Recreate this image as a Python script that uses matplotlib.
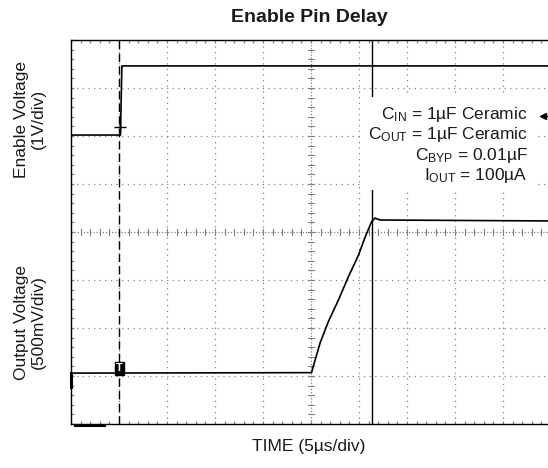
import matplotlib
matplotlib.use("Agg")
import matplotlib.pyplot as plt
from matplotlib.patches import Rectangle
import numpy as np

plt.rcParams['font.family'] = ['Liberation Sans', 'DejaVu Sans']
plt.rcParams['mathtext.fontset'] = 'custom'
plt.rcParams['mathtext.rm'] = 'Liberation Sans'
plt.rcParams['mathtext.it'] = 'Liberation Sans:italic'
plt.rcParams['mathtext.bf'] = 'Liberation Sans:bold'

# ---- data (screen divisions) ----
title = "Enable Pin Delay"
xlabel = "TIME (5µs/div)"
ylabel_top = "Enable Voltage\n(1V/div)"
ylabel_bottom = "Output Voltage\n(500mV/div)"

time_enable = [0.0, 1.03, 1.06, 10.0]
enable_div = [6.02, 6.02, 7.46, 7.46]

time_out = [0.0, 5.01, 5.19, 5.36, 5.57, 5.78, 5.99, 6.13, 6.26, 6.33, 6.44, 10.0]
vout_div = [1.06, 1.07, 1.69, 2.13, 2.58, 3.07, 3.52, 3.90, 4.21, 4.29, 4.25, 4.23]

trigger_time = 1.0
cursor_time = 6.27

notes = [r"C$_{\mathrm{IN}}$ = 1µF Ceramic",
         r"C$_{\mathrm{OUT}}$ = 1µF Ceramic",
         r"C$_{\mathrm{BYP}}$ = 0.01µF",
         r"I$_{\mathrm{OUT}}$ = 100µA"]

# ---- figure ----
W, H = 548, 468
fig = plt.figure(figsize=(W / 100, H / 100), dpi=100)
ax = fig.add_axes([71 / W, 44 / H, 480 / W, 384 / H])
ax.set_xlim(0, 10)
ax.set_ylim(0, 8)

gridc = '#808080'
txtc = '#1a1a1a'
for xv in range(1, 10):
    if xv == 5:
        continue
    ax.plot([xv, xv], [0, 8], color=gridc, lw=0.9, ls=(0, (1, 3.5)), zorder=1)
for yv in range(1, 8):
    if yv == 4:
        continue
    ax.plot([0, 10], [yv, yv], color=gridc, lw=0.9, ls=(0, (1, 3.5)), zorder=1)
# centre cross with minor ticks
ax.plot([5, 5], [0, 8], color=gridc, lw=0.9, ls=(0, (1, 1.5)), zorder=1)
ax.plot([0, 10], [4, 4], color=gridc, lw=0.9, ls=(0, (1, 1.5)), zorder=1)
for t in np.arange(0, 10.01, 0.2):
    ax.plot([t, t], [3.94, 4.06], color=gridc, lw=0.8, zorder=1)
for t in np.arange(0, 8.01, 0.2):
    ax.plot([4.94, 5.06], [t, t], color=gridc, lw=0.8, zorder=1)

# edge minor ticks
ax.set_xticks([])
ax.set_yticks([])
ax.set_xticks(np.arange(0, 10.01, 0.2), minor=True)
ax.set_yticks(np.arange(0, 8.01, 0.2), minor=True)
ax.tick_params(which='minor', direction='in', length=2.5, width=0.9, color=gridc,
               top=True, bottom=True, left=True, right=False,
               labelbottom=False, labelleft=False)
for s in ['left', 'top', 'bottom']:
    ax.spines[s].set_linewidth(1.0)
    ax.spines[s].set_color('black')
ax.spines['right'].set_visible(False)

# trigger & cursor lines
ax.plot([trigger_time, trigger_time], [0, 8], color='black', lw=1.0,
        ls=(0, (6, 3)), zorder=3)
ax.plot([cursor_time, cursor_time], [0, 8], color='black', lw=1.0, zorder=3)

# traces
ax.plot(time_enable, enable_div, color='black', lw=1.2, zorder=4)
ax.plot(time_out, vout_div, color='black', lw=1.2, zorder=4)

# markers
ax.plot([1.02], [6.19], marker='+', color='black', ms=9, mew=1.0, zorder=5)
ax.text(1.01, 1.16, "T", color='white', fontsize=8, fontweight='bold',
        ha='center', va='center', zorder=6,
        bbox=dict(boxstyle='square,pad=0.12', fc='black', ec='black'))
ax.plot([0, 0], [0.77, 1.06], color='black', lw=2.2, clip_on=False, zorder=6)
ax.plot([0.08, 0.69], [-0.03, -0.03], color='black', lw=2.2, clip_on=False, zorder=6)
ax.plot([9.83], [6.42], marker='<', color='black', ms=4.5, zorder=6, clip_on=False)
ax.plot([9.83, 9.95], [6.42, 6.42], color='black', lw=1.0, zorder=6, clip_on=False)

# annotation box
ax.add_patch(Rectangle((6.02, 4.875), 3.69, 1.94, fc='white', ec='none', zorder=7))
for i, s in enumerate(notes):
    ax.text(9.52, 6.354 - i * 0.424, s, fontsize=12.5, ha='right', va='baseline',
            color=txtc, zorder=8)

# labels
fig.text(309 / W, 1 - 18 / H, title, fontsize=14, fontweight='bold',
         ha='center', va='center', color=txtc)
fig.text(309 / W, 1 - 447 / H, xlabel, fontsize=12.5, ha='center', va='center',
         color=txtc)
fig.text(30 / W, 1 - 119 / H, ylabel_top, fontsize=12.5, rotation=90,
         ha='center', va='center', linespacing=1.1, multialignment='center',
         color=txtc)
fig.text(30 / W, 1 - 322 / H, ylabel_bottom, fontsize=12.5, rotation=90,
         ha='center', va='center', linespacing=1.1, multialignment='center',
         color=txtc)

fig.savefig("out.png", dpi=100)
